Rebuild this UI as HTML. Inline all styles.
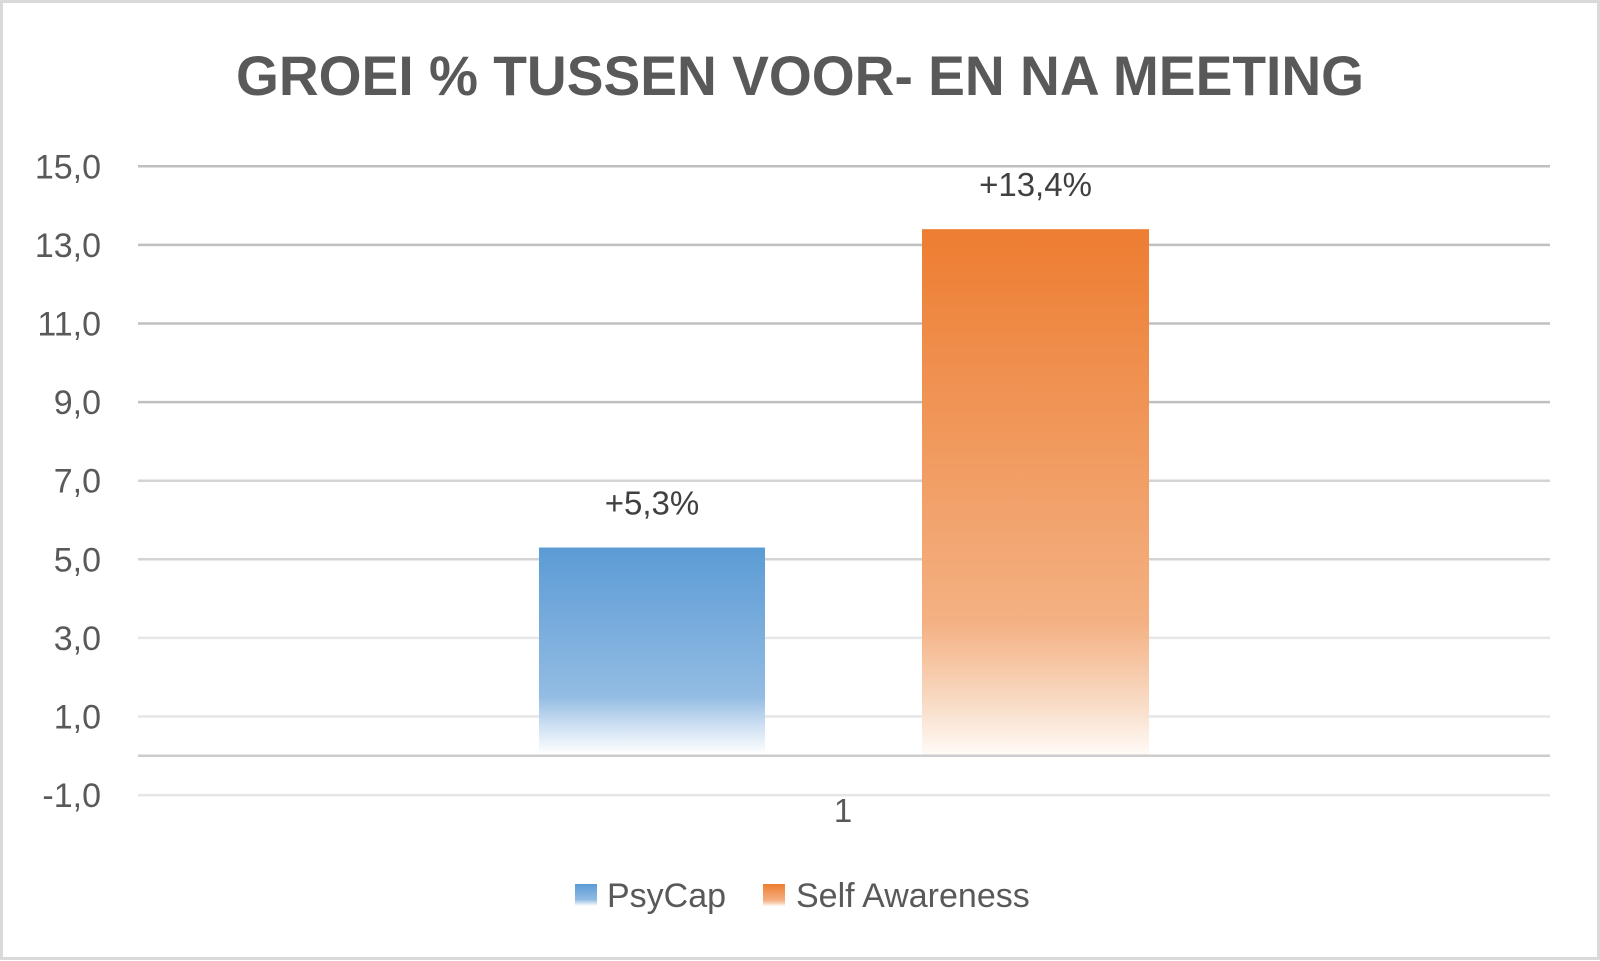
<!DOCTYPE html>
<html><head><meta charset="utf-8"><style>
html,body{margin:0;padding:0;background:#fff}
svg{display:block;font-family:"Liberation Sans",sans-serif}
</style></head><body>
<svg id="chart" width="1600" height="961" viewBox="0 0 1600 961">
<defs>
<linearGradient id="gb" x1="0" y1="0" x2="0" y2="1">
<stop offset="0" stop-color="#5b9bd5"/><stop offset="0.72" stop-color="#93bce3"/><stop offset="0.85" stop-color="#c9ddf1"/><stop offset="1" stop-color="#ffffff"/></linearGradient>
<linearGradient id="go" x1="0" y1="0" x2="0" y2="1">
<stop offset="0" stop-color="#ed7d31"/><stop offset="0.75" stop-color="#f4b183"/><stop offset="0.9" stop-color="#f8dac4"/><stop offset="1" stop-color="#fffaf6"/></linearGradient>
</defs>
<rect x="1.5" y="1.5" width="1597" height="957" fill="#fff" stroke="#d9d9d9" stroke-width="3"/>
<text x="800" y="95" text-anchor="middle" font-size="56" font-weight="bold" fill="#595959" textLength="1128" lengthAdjust="spacingAndGlyphs">GROEI % TUSSEN VOOR- EN NA MEETING</text>
<g id="grid"></g><g id="bars"></g><g id="labels"></g>
<text x="843" y="822" text-anchor="middle" font-size="33" fill="#595959">1</text>
<g>
<rect x="575" y="884" width="22" height="22" fill="url(#gb)"/>
<text x="607" y="907" font-size="34" fill="#595959">PsyCap</text>
<rect x="763" y="884" width="22" height="22" fill="url(#go)"/>
<text x="796" y="907" font-size="34" fill="#595959">Self Awareness</text>
</g>
</svg>
<script>
const ticks=[15,13,11,9,7,5,3,1,-1];
const tickLabels=["15,0","13,0","11,0","9,0","7,0","5,0","3,0","1,0","-1,0"];
const series=["PsyCap","Self Awareness"];
const values=[5.3,13.4];
const valueLabels=["+5,3%","+13,4%"];
const NS="http://www.w3.org/2000/svg";
const y=v=>755.8-(v)*39.3;
const x0=138,x1=1550;
const barX=[539,922],barW=[226,227];
const fills=["url(#gb)","url(#go)"];
const grid=document.getElementById('grid'),bars=document.getElementById('bars'),labels=document.getElementById('labels');
function mk(t,a){const e=document.createElementNS(NS,t);for(const k in a)e.setAttribute(k,a[k]);return e;}
ticks.forEach((t,i)=>{
 const c=t>=9?"#c0c0c0":t>=5?"#d4d4d4":"#e6e6e6";
 const l=mk('line',{x1:x0,x2:x1,y1:y(t),y2:y(t),stroke:c,'stroke-width':2.5});
 
 
 grid.appendChild(l);
 const tx=mk('text',{x:101,y:y(t)+12,'text-anchor':'end','font-size':34,fill:'#595959'});
 tx.textContent=tickLabels[i];
 
 
 grid.appendChild(tx);
});
const z=mk('line',{x1:x0,x2:x1,y1:y(0),y2:y(0),stroke:'#cccccc','stroke-width':2.5});


grid.appendChild(z);
values.forEach((v,i)=>{
 const r=mk('rect',{x:barX[i],y:y(v),width:barW[i],height:y(0)-y(v)-1.5,fill:fills[i]});
 
 
 bars.appendChild(r);
 const t=mk('text',{x:barX[i]+barW[i]/2,y:y(v)-33,'text-anchor':'middle','font-size':33,fill:'#404040'});
 t.textContent=valueLabels[i];
 
 
 labels.appendChild(t);
});
</script>
</body></html>
